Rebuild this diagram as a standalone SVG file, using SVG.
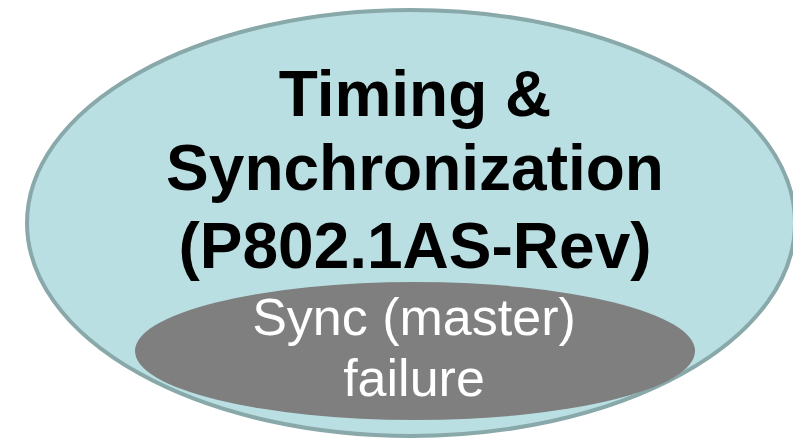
<svg xmlns="http://www.w3.org/2000/svg" width="793" height="439" viewBox="0 0 793 439">
  <style>
    .outer { fill: #b9dfe3; stroke: #89a8a9; stroke-width: 4; }
    .inner { fill: #7f7f7f; }
    .title { font-family: "Liberation Sans", Arial, sans-serif; font-weight: bold; font-size: 64px; fill: #000; text-anchor: middle; }
    .sub { font-family: "Liberation Sans", Arial, sans-serif; font-size: 52px; fill: #fff; text-anchor: middle; }
  </style>
  <g id="timing-sync">
    <ellipse class="outer" cx="411" cy="223" rx="384" ry="213"/>
    <text class="title" x="415" y="116">Timing &amp;</text>
    <text class="title" x="415" y="190">Synchronization</text>
    <text class="title" x="415" y="268">(P802.1AS-Rev)</text>
  </g>
  <g id="sync-failure">
    <ellipse class="inner" cx="415" cy="351" rx="280" ry="69"/>
    <text class="sub" x="414" y="335">Sync (master)</text>
    <text class="sub" x="414" y="396">failure</text>
  </g>
  <g id="connectors"/>
</svg>
